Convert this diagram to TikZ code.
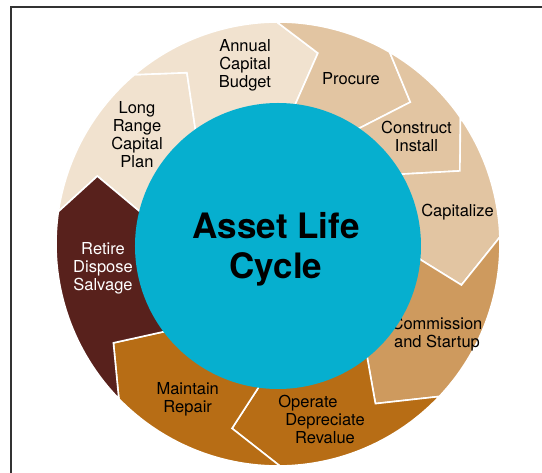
\documentclass[tikz,border=0pt]{standalone}
\usepackage{fontspec}
\setmainfont{TeX Gyre Heros}
\definecolor{planning}{HTML}{F1E2CF}
\definecolor{acquiring}{HTML}{E2C5A2}
\definecolor{commissioning}{HTML}{CE9A5E}
\definecolor{operating}{HTML}{B76D15}
\definecolor{retiring}{HTML}{58211C}
\definecolor{hub}{HTML}{06AFCF}
\tikzset{
  % ring options
  stage/.style={draw=white,line width=1.6pt,line join=miter},
  stagePlanning/.style={stage,fill=planning},
  stageAcquiring/.style={stage,fill=acquiring},
  stageCommissioning/.style={stage,fill=commissioning},
  stageOperating/.style={stage,fill=operating},
  stageRetiring/.style={stage,fill=retiring},
  % node options
  stageText/.style={align=center,inner sep=0pt,font=\fontsize{16.5}{18}\selectfont},
  stageTextLight/.style={stageText,text=white},
  hubNode/.style={circle,fill=hub,minimum size=286pt,inner sep=0pt,align=center,
    font=\fontsize{35}{40}\selectfont\bfseries},
  borderLine/.style={draw=black!80,line width=1.3pt},
}
\begin{document}
\begin{tikzpicture}[x=1pt,y=1pt]
  \useasboundingbox (-278,-229) rectangle (264,244);
  \draw[borderLine] (-267,-240) -- (-267,237) -- (275,237);
  % ring
  \path[stagePlanning] (171.6:222) -- (159.4:193) -- (167.6:138)
    arc[start angle=167.6,end angle=126.5,radius=138pt] -- (118:194) -- (130.3:222)
    arc[start angle=130.3,end angle=171.6,radius=222pt] -- cycle;
  \path[stagePlanning] (130.3:222) -- (118:194) -- (126.5:138)
    arc[start angle=126.5,end angle=83.3,radius=138pt] -- (78.2:195) -- (90.3:222)
    arc[start angle=90.3,end angle=130.3,radius=222pt] -- cycle;
  \path[stageAcquiring] (90.3:222) -- (78.2:195) -- (83.3:138)
    arc[start angle=83.3,end angle=55.7,radius=138pt] -- (47:194) -- (59.8:222)
    arc[start angle=59.8,end angle=90.3,radius=222pt] -- cycle;
  \path[stageAcquiring] (59.8:222) -- (47:194) -- (55.7:138)
    arc[start angle=55.7,end angle=30.3,radius=138pt] -- (21.9:196) -- (34.7:222)
    arc[start angle=34.7,end angle=59.8,radius=222pt] -- cycle;
  \path[stageAcquiring] (34.7:222) -- (21.9:196) -- (30.3:138)
    arc[start angle=30.3,end angle=-5.2,radius=138pt] -- (-12.6:188) -- (1.8:222)
    arc[start angle=1.8,end angle=34.7,radius=222pt] -- cycle;
  \path[stageCommissioning] (1.8:222) -- (-12.6:188) -- (-5.2:138)
    arc[start angle=-5.2,end angle=-50.4,radius=138pt] -- (-58.6:187) -- (-43.4:222)
    arc[start angle=-43.4,end angle=1.8,radius=222pt] -- cycle;
  \path[stageOperating] (-43.4:222) -- (-58.6:187) -- (-50.4:138)
    arc[start angle=-50.4,end angle=-96.4,radius=138pt] -- (-104:190) -- (-89.5:222)
    arc[start angle=-89.5,end angle=-43.4,radius=222pt] -- cycle;
  \path[stageOperating] (-89.5:222) -- (-104:190) -- (-96.4:138)
    arc[start angle=-96.4,end angle=-141.3,radius=138pt] -- (-149:192) -- (-135.8:222)
    arc[start angle=-135.8,end angle=-89.5,radius=222pt] -- cycle;
  \path[stageRetiring] (224.2:222) -- (211:192) -- (218.7:138)
    arc[start angle=218.7,end angle=167.6,radius=138pt] -- (159.4:193) -- (171.6:222)
    arc[start angle=171.6,end angle=224.2,radius=222pt] -- cycle;
  % labels
  \node[stageText] (plan) at (-141,109) {Long\\Range\\Capital\\Plan};
  \node[stageText] (budget) at (-33,178.5) {Annual\\Capital\\Budget};
  \node[stageText] (procure) at (73,165) {Procure};
  \node[stageText] (construct) at (138.5,108) {Construct\\Install};
  \node[stageText] (capitalize) at (179.5,32.3) {Capitalize};
  \node[stageText] (commission) at (159,-90) {Commission\\and Startup};
  \node[stageText] (operate) at (47,-175) {Operate\hspace*{34pt}\\Depreciate\\Revalue};
  \node[stageText] (maintain) at (-90.3,-155) {Maintain\\Repair};
  \node[stageTextLight] (retire) at (-175,-24) {Retire\\Dispose\\Salvage};
  \node[hubNode] (hub) at (0,-2) {};
  \node[font=\fontsize{35}{40}\selectfont\bfseries,align=center,inner sep=0pt] (title) at (-2,-5) {Asset Life\\Cycle};
\end{tikzpicture}
\end{document}
